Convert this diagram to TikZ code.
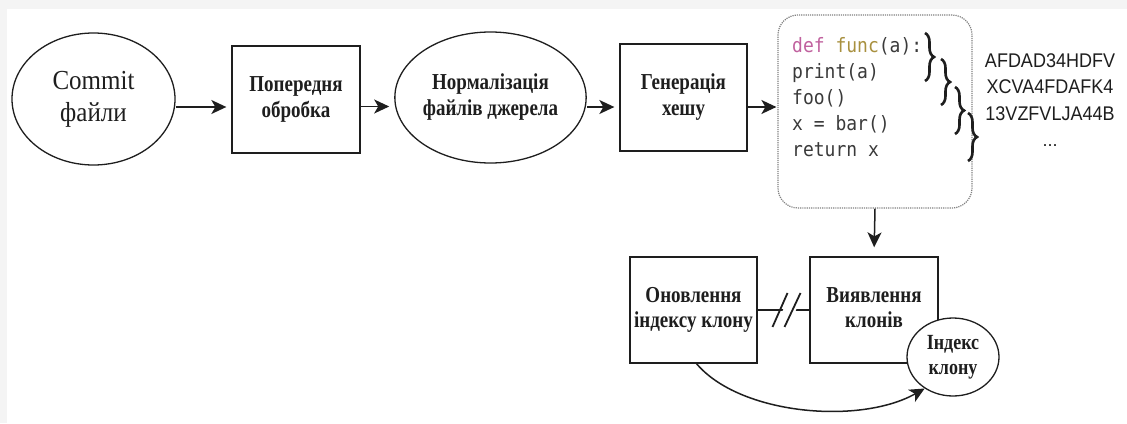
\documentclass[tikz,border=0pt]{standalone}
\usepackage{fontspec}
\usepackage{graphicx}
\setmainfont{Liberation Serif}
\newfontfamily\codefont{DejaVu Sans Mono}
\newfontfamily\hashfont{Liberation Sans}
\usetikzlibrary{shapes.geometric,arrows.meta,decorations.pathreplacing}
\definecolor{ink}{HTML}{1E1E1E}
\definecolor{codegray}{HTML}{3A3A3A}
\definecolor{kwpink}{HTML}{C0619E}
\definecolor{fnolive}{HTML}{A8903F}
\definecolor{bandgray}{HTML}{F4F4F4}
\newcommand{\vstretch}[2]{\scalebox{1}[#1]{\begin{tabular}{@{}c@{}}#2\end{tabular}}}
\newcommand{\vtxt}[2]{\scalebox{1}[#1]{#2}}
\tikzset{
  procbox/.style={draw=ink,line width=1.3pt,rectangle,inner sep=0pt,
    font=\fontsize{19}{21}\selectfont\bfseries,text=ink},
  procell/.style={draw=ink,line width=1.3pt,ellipse,inner sep=0pt,
    font=\fontsize{19}{22}\selectfont\bfseries,text=ink},
  tipstyle/.tip={Stealth[length=15pt,width=14pt,inset=4pt]},
  arr/.style={draw=ink,line width=1.5pt,-tipstyle,shorten >=5pt},
  codeline/.style={anchor=base west,inner sep=0pt,font=\codefont\fontsize{18}{26}\selectfont,text=codegray},
  hashline/.style={anchor=base,inner sep=0pt,font=\hashfont\fontsize{18}{26}\selectfont,text=ink},
  bracestyle/.style={draw=ink,line width=2.6pt,decorate,decoration={brace,amplitude=9pt}}
}
\begin{document}
\begin{tikzpicture}[x=1pt,y=-1pt]
\useasboundingbox (0,0) rectangle (1127,423);
\fill[bandgray] (0,0) rectangle (1127,9);
\fill[bandgray] (0,0) rectangle (7,423);

% top row
\node[procell,minimum width=163pt,minimum height=132pt,
  font=\fontsize{25}{29}\selectfont] (commit) at (93.5,99) {\vstretch{1.1}{Commit\\файли}};
\node[procbox,minimum width=128pt,minimum height=107pt] (pre) at (296,99.5) {\raisebox{-4pt}{\vstretch{1.2}{Попередня\\обробка}}};
\node[procell,minimum width=165pt,minimum height=131pt] (norm) at (490.5,97.5) {\vstretch{1.2}{Нормалізація\\файлів джерела}};
\node[procbox,minimum width=127pt,minimum height=107pt] (gen) at (683.5,97.5) {\raisebox{-2pt}{\vstretch{1.2}{Генерація\\хешу}}};
\node[draw=gray,densely dotted,line width=1.2pt,rounded corners=20pt,
  minimum width=194pt,minimum height=193pt,inner sep=0pt] (code) at (875,111.5) {};

% code text
\node[codeline] (c1) at (792,52) {\vtxt{1.1}{\textcolor{kwpink}{def} \textcolor{fnolive}{func}(a):}};
\node[codeline] (c2) at (792,78) {\vtxt{1.1}{print(a)}};
\node[codeline] (c3) at (792,104) {\vtxt{1.1}{foo()}};
\node[codeline] (c4) at (792,130) {\vtxt{1.1}{x = bar()}};
\node[codeline] (c5) at (792,156) {\vtxt{1.1}{return x}};

% braces
\draw[bracestyle] (925,33) -- (925,81);
\draw[bracestyle] (941,59) -- (941,105);
\draw[bracestyle] (955,87) -- (955,134);
\draw[bracestyle] (968,113) -- (968,161);

% hashes
\node[hashline] (h1) at (1050,67) {\vtxt{1.1}{AFDAD34HDFV}};
\node[hashline] (h2) at (1050,93) {\vtxt{1.1}{XCVA4FDAFK4}};
\node[hashline] (h3) at (1050,120) {\vtxt{1.1}{13VZFVLJA44B}};
\node[hashline] (h4) at (1050,146) {...};

% bottom row
\node[procbox,minimum width=127pt,minimum height=106pt] (upd) at (693.5,310) {\vstretch{1.2}{Оновлення\\індексу клону}};
\node[procbox,minimum width=128pt,minimum height=106pt] (det) at (874,310) {\vstretch{1.2}{Виявлення\\клонів}};
\node[procell,fill=white,minimum width=92pt,minimum height=78pt,
  font=\fontsize{18}{21}\selectfont\bfseries] (idx) at (953,357) {\vstretch{1.2}{Індекс\\клону}};

% connectors
\coordinate (g1) at ([yshift=-9.5pt]gen.east);
\draw[arr] ([yshift=-8pt]commit.east) -- ([yshift=-7.5pt]pre.west);
\draw[arr] ([yshift=-7pt]pre.east) -- ([yshift=-9pt]norm.west);
\draw[arr] ([yshift=-9.5pt]norm.east) -- ([yshift=-9.5pt]gen.west);
\draw[arr,shorten >=1pt] (g1) -- (code.west |- g1);
\draw[arr,shorten >=9pt] (code.south) -- (det.north);

\draw[draw=ink,line width=1.3pt] (upd.east) -- (det.west) coordinate[midway] (mid);
\fill[white] ([shift={(-8,18)}]mid) -- ([shift={(5,18)}]mid) -- ([shift={(20,-18)}]mid) -- ([shift={(7,-18)}]mid) -- cycle;
\draw[draw=ink,line width=1.8pt] ([shift={(-11,17)}]mid) -- ([shift={(4,-17)}]mid);
\draw[draw=ink,line width=1.8pt] ([shift={(1,17)}]mid) -- ([shift={(17,-17)}]mid);

\draw[draw=ink,line width=1.5pt,-tipstyle]
  ([xshift=3pt]upd.south) .. controls (740,415) and (860,425) .. (idx.228);
\end{tikzpicture}
\end{document}
